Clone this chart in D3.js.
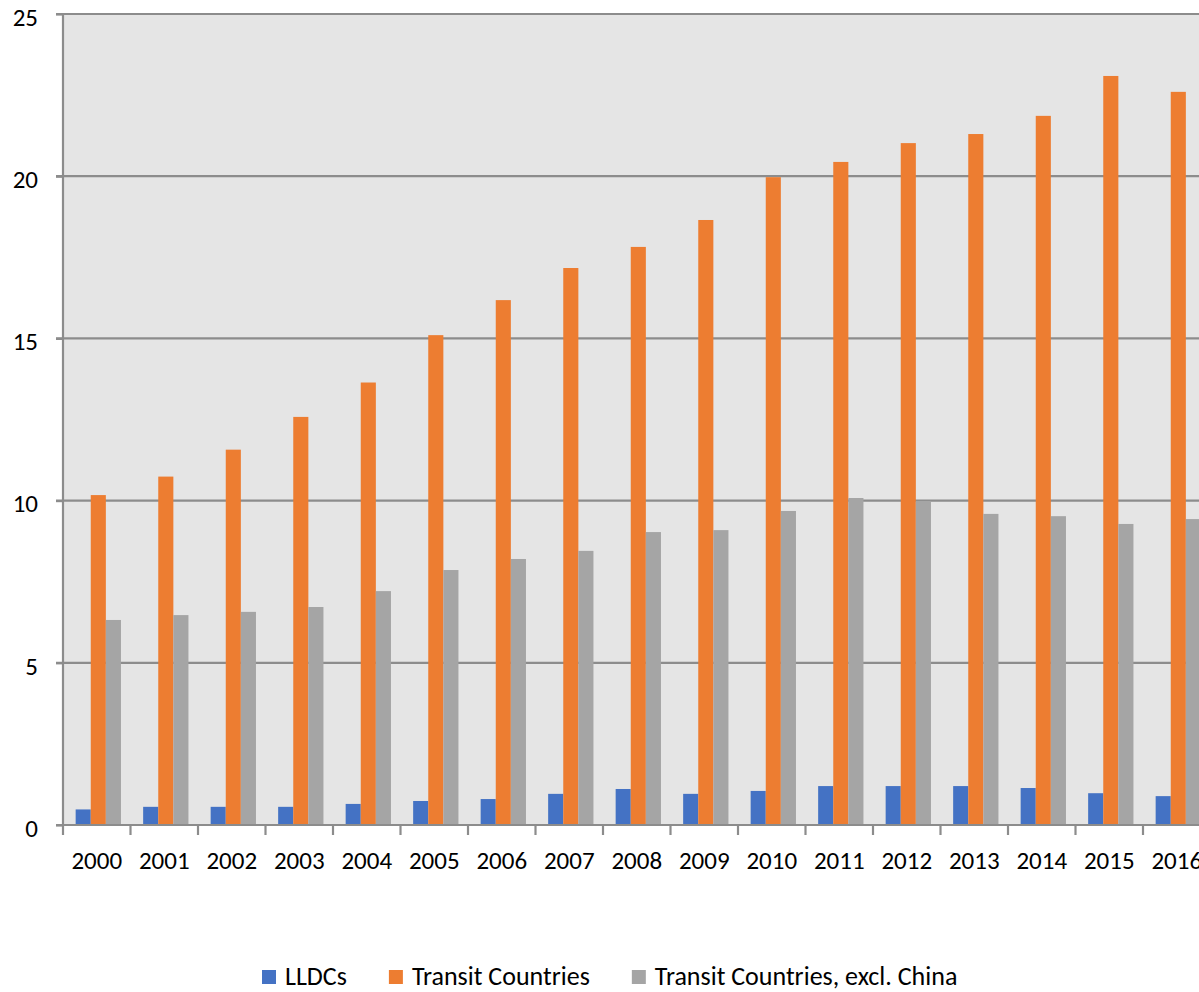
<!DOCTYPE html>
<html><head><meta charset="utf-8">
<script src="https://cdn.jsdelivr.net/npm/d3@7"></script>
<style>body{margin:0;background:#fff;} svg{display:block;font-family:Carlito,Lato,sans-serif;}</style>
</head><body>
<svg id="chart" width="1199" height="992"></svg>
<script>
const years = ["2000","2001","2002","2003","2004","2005","2006","2007","2008","2009","2010","2011","2012","2013","2014","2015","2016"];
const seriesNames = ["LLDCs","Transit Countries","Transit Countries, excl. China"];
const lldcs = [0.48,0.56,0.56,0.56,0.65,0.74,0.80,0.96,1.11,0.96,1.05,1.20,1.20,1.20,1.14,0.98,0.89];
const transit = [10.17,10.74,11.57,12.58,13.64,15.10,16.18,17.17,17.82,18.65,19.97,20.44,21.02,21.30,21.86,23.09,22.60];
const transitExChina = [6.32,6.47,6.57,6.72,7.21,7.86,8.20,8.45,9.03,9.09,9.68,10.08,9.99,9.59,9.52,9.28,9.43];
const yTicks = [0,5,10,15,20,25];
const colors = ["#4472c4","#ed7d31","#a5a5a5"];
const seriesValues = [lldcs, transit, transitExChina];

(function () {
const svg = d3.select("#chart");
const pLeft = 63, pTop = 14, pBottom = 825, step = 67.5;
const pRight = pLeft + step * years.length;

const x0 = d3.scaleBand().domain(years).range([pLeft, pRight]).padding(0);
const x1 = d3.scaleBand().domain(seriesNames).range([0, x0.bandwidth()]).paddingInner(0).paddingOuter(0.735).align(0.57);
const y = d3.scaleLinear().domain([0, 25]).range([pBottom, pTop]);

svg.append("rect").attr("x", pLeft).attr("y", pTop).attr("width", 1199 - pLeft).attr("height", pBottom - pTop).attr("fill", "#e5e5e5");

svg.append("g").selectAll("line").data(yTicks.filter(d => d > 0)).join("line")
  .attr("x1", pLeft - 7).attr("x2", 1199).attr("y1", d => y(d)).attr("y2", d => y(d))
  .attr("stroke", "#8c8c8c").attr("stroke-width", 2.2);

const groups = svg.append("g").selectAll("g").data(years).join("g")
  .attr("transform", d => `translate(${x0(d)},0)`);
groups.selectAll("rect").data((d, i) => seriesNames.map((s, k) => ({s, v: seriesValues[k][i], k}))).join("rect")
  .attr("x", d => x1(d.s)).attr("width", x1.bandwidth())
  .attr("y", d => y(d.v)).attr("height", d => y(0) - y(d.v))
  .attr("fill", d => colors[d.k]);

const yAxis = d3.axisLeft(y).tickValues(yTicks).tickSize(7).tickPadding(18);
const gy = svg.append("g").attr("transform", `translate(${pLeft},0)`).call(yAxis);
gy.select(".domain").attr("stroke", "#8c8c8c").attr("stroke-width", 2.2).attr("d", `M0,${pTop - 1}V${pBottom + 1}`);
gy.selectAll(".tick line").attr("stroke", "#8c8c8c").attr("stroke-width", 2.2);
gy.selectAll(".tick text").attr("font-size", 25).attr("fill", "#000").attr("dy", "0.45em")
  .attr("font-family", "Carlito,Lato,sans-serif");

const xAxis = d3.axisBottom(x0).tickSize(0).tickPadding(26);
const gx = svg.append("g").attr("transform", `translate(0,${pBottom})`).call(xAxis);
gx.select(".domain").attr("stroke", "#8c8c8c").attr("stroke-width", 2.2).attr("d", `M${pLeft - 7},0H1199`);
gx.selectAll(".tick text").attr("font-size", 25).attr("fill", "#000").attr("font-family", "Carlito,Lato,sans-serif");
svg.append("g").selectAll("line").data(years).join("line")
  .attr("x1", d => x0(d)).attr("x2", d => x0(d)).attr("y1", pBottom).attr("y2", pBottom + 10)
  .attr("stroke", "#8c8c8c").attr("stroke-width", 2.2);

const legend = svg.append("g");
let lx = 262;
seriesNames.forEach((s, k) => {
  legend.append("rect").attr("x", lx).attr("y", 970).attr("width", 14).attr("height", 14).attr("fill", colors[k]);
  const t = legend.append("text").attr("x", lx + 23).attr("y", 985)
    .attr("font-size", 26).attr("fill", "#000").text(s);
  lx += 23 + t.node().getComputedTextLength() + 42;
});
})();
</script>
</body></html>
